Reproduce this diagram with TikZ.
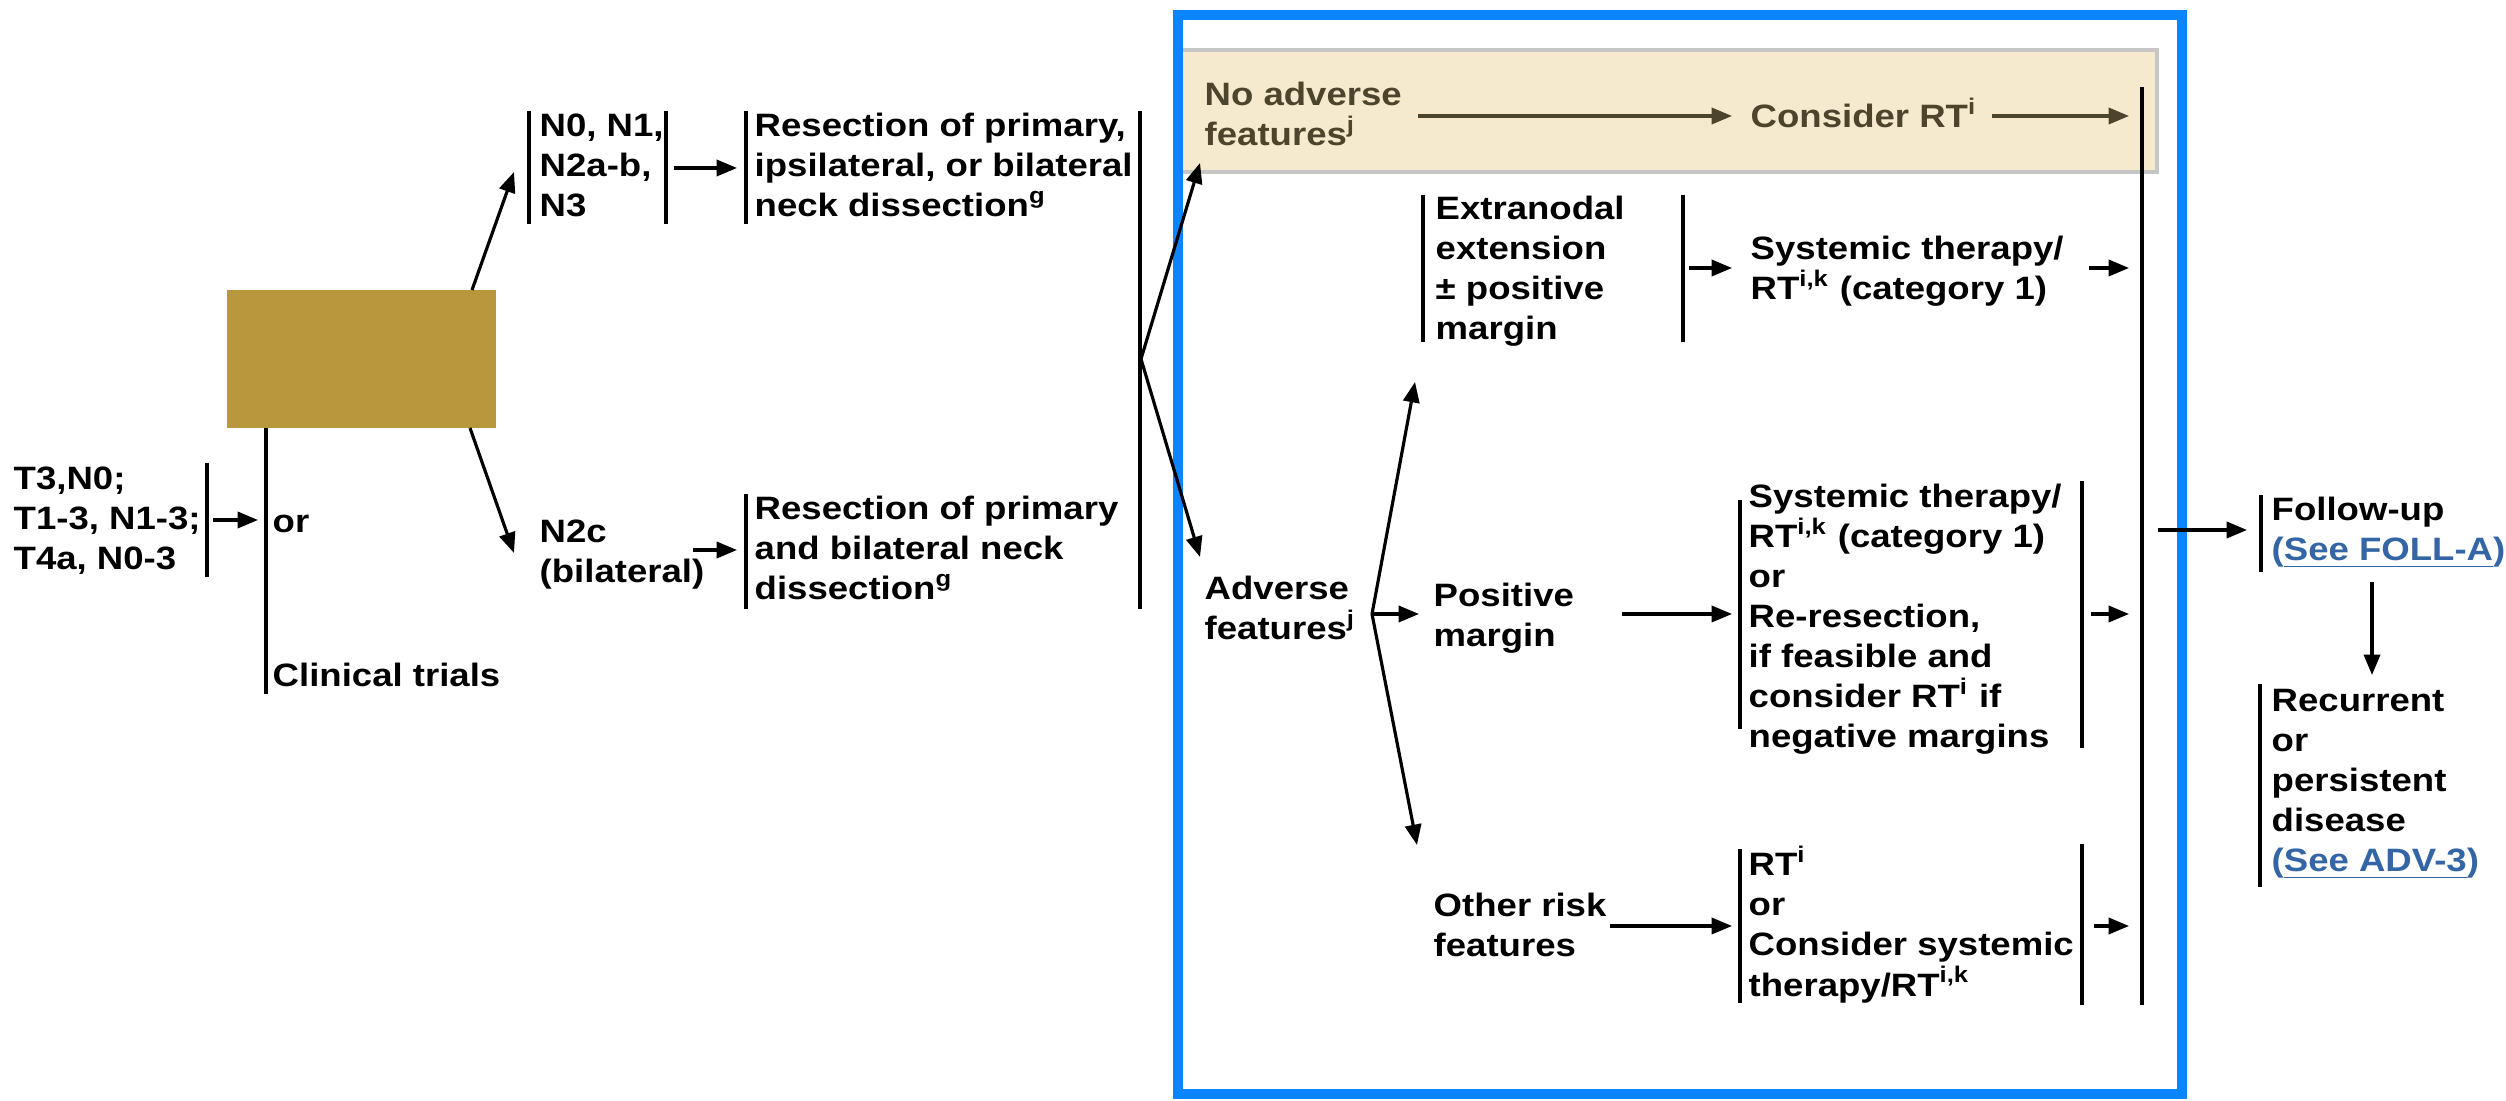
\documentclass[tikz,border=0pt]{standalone}
\usepackage{fontspec}
\setmainfont{Liberation Sans}[FakeStretch=1.13]
\usetikzlibrary{arrows.meta}

\definecolor{boxbrown}{RGB}{185,151,60}
\definecolor{frameblue}{RGB}{10,132,255}
\definecolor{bandbeige}{RGB}{245,234,206}
\definecolor{bandtext}{RGB}{77,68,45}
\definecolor{linkblue}{RGB}{52,101,164}

\newcommand{\seelink}[1]{\textcolor{linkblue}{(\underline{#1})}}

% nodes are placed at the baseline of their last line
\tikzset{
  txt/.style={anchor=base west, inner sep=0pt, align=left,
    font=\bfseries\fontsize{9.2}{11.4}\selectfont},
  arr/.style={-{Triangle[length=5.8pt,width=4.6pt]}, line width=0.9pt},
  bar/.style={line width=0.9pt},
}

\begin{document}
\begin{tikzpicture}[x=0.01cm,y=-0.01cm]
    \useasboundingbox (0,0) rectangle (2506,1101);

    % shaded band and frame
    \fill [bandbeige] (1183,50) rectangle (2157,172);
    \draw [gray!45, line width=1.2pt] (1183,50) -- (2157,50) -- (2157,172) -- (1183,172);
    \draw [frameblue, line width=2.85pt] (1178,15) rectangle (2182,1094);

    % nodes
    \node [fill=boxbrown, minimum width=2.69cm, minimum height=1.38cm, inner sep=0pt] (prim) at (361.5,359) {};
    \node [txt] (stage) at (13,570) {T3,N0;\\T1-3, N1-3;\\T4a, N0-3};
    \node [txt] (ortxt) at (272,533) {or};
    \node [txt] (trials) at (272,687) {Clinical trials};
    \node [txt] (nzero) at (539,217) {N0, N1,\\N2a-b,\\N3};
    \node [txt] (resone) at (754,217) {Resection of primary,\\ipsilateral, or bilateral\\neck dissection\textsuperscript{g}};
    \node [txt] (ntwoc) at (539,583) {N2c\\(bilateral)};
    \node [txt] (restwo) at (754,600) {Resection of primary\\and bilateral neck\\dissection\textsuperscript{g}};
    \node [txt, text=bandtext] (noadv) at (1204,146) {No adverse\\features\textsuperscript{j}};
    \node [txt, text=bandtext] (consrt) at (1750,128) {Consider RT\textsuperscript{i}};
    \node [txt] (extra) at (1435,340) {Extranodal\\extension\\± positive\\margin};
    \node [txt] (systone) at (1750,300) {Systemic therapy/\\RT\textsuperscript{i,k} (category 1)};
    \node [txt] (adv) at (1204,640) {Adverse\\features\textsuperscript{j}};
    \node [txt] (posm) at (1433,647) {Positive\\margin};
    \node [txt] (systtwo) at (1748,748) {Systemic therapy/\\RT\textsuperscript{i,k} (category 1)\\or\\Re-resection,\\if feasible and\\consider RT\textsuperscript{i} if\\negative margins};
    \node [txt] (other) at (1433,957) {Other risk\\features};
    \node [txt] (rtopt) at (1748,996) {RT\textsuperscript{i}\\or\\Consider systemic\\therapy/RT\textsuperscript{i,k}};
    \node [txt] (follow) at (2271,561) {Follow-up\\\seelink{See FOLL-A}};
    \node [txt] (recur) at (2271,872) {Recurrent\\or\\persistent\\disease\\\seelink{See ADV-3}};

    % bars
    \draw [bar] (207,463) -- (207,577);
    \draw [bar] (266,428) -- (266,694);
    \draw [bar] (529,111) -- (529,224);
    \draw [bar] (666,111) -- (666,224);
    \draw [bar] (746,111) -- (746,224);
    \draw [bar] (746,494) -- (746,609);
    \draw [bar] (1140,111) -- (1140,609);
    \draw [bar] (1423,195) -- (1423,342);
    \draw [bar] (1683,195) -- (1683,342);
    \draw [bar] (1740,500) -- (1740,729);
    \draw [bar] (2082,481) -- (2082,748);
    \draw [bar] (1740,849) -- (1740,1003);
    \draw [bar] (2082,844) -- (2082,1005);
    \draw [bar] (2142,87) -- (2142,1005);
    \draw [bar] (2261,495) -- (2261,572);
    \draw [bar] (2260,684) -- (2260,887);

    % arrow ends
    \coordinate (stageout) at (213,520);
    \coordinate (orin) at (258,520);
    \coordinate (primtop) at (472,290);
    \coordinate (nzeroin) at (514,172);
    \coordinate (primbot) at (470,428);
    \coordinate (ntwocin) at (514,553);
    \coordinate (nzeroout) at (674,168);
    \coordinate (resonein) at (737,168);
    \coordinate (ntwocout) at (693,550);
    \coordinate (restwoin) at (737,550);
    \coordinate (fork) at (1141,359);
    \coordinate (noadvin) at (1200,163);
    \coordinate (advin) at (1200,557);
    \coordinate (noadvout) at (1418,116);
    \coordinate (consin) at (1732,116);
    \coordinate (consout) at (1992,116);
    \coordinate (consend) at (2129,116);
    \coordinate (forktwo) at (1372,614);
    \coordinate (extrain) at (1415,382);
    \coordinate (posin) at (1419,614);
    \coordinate (otherin) at (1417,845);
    \coordinate (extraout) at (1689,268);
    \coordinate (systonein) at (1732,268);
    \coordinate (systoneout) at (2089,268);
    \coordinate (systoneend) at (2129,268);
    \coordinate (posout) at (1622,614);
    \coordinate (systtwoin) at (1732,614);
    \coordinate (systtwoout) at (2091,614);
    \coordinate (systtwoend) at (2129,614);
    \coordinate (otherout) at (1610,926);
    \coordinate (rtoptin) at (1732,926);
    \coordinate (rtoptout) at (2094,926);
    \coordinate (rtoptend) at (2129,926);
    \coordinate (allout) at (2158,530);
    \coordinate (followin) at (2247,530);
    \coordinate (followout) at (2372,582);
    \coordinate (recurin) at (2372,675);

    % arrows
    \draw [arr] (stageout) -- (orin);
    \draw [arr] (primtop) -- (nzeroin);
    \draw [arr] (primbot) -- (ntwocin);
    \draw [arr] (nzeroout) -- (resonein);
    \draw [arr] (ntwocout) -- (restwoin);
    \draw [arr] (fork) -- (noadvin);
    \draw [arr] (fork) -- (advin);
    \draw [arr, bandtext] (noadvout) -- (consin);
    \draw [arr, bandtext] (consout) -- (consend);
    \draw [arr] (forktwo) -- (extrain);
    \draw [arr] (forktwo) -- (posin);
    \draw [arr] (forktwo) -- (otherin);
    \draw [arr] (extraout) -- (systonein);
    \draw [arr] (systoneout) -- (systoneend);
    \draw [arr] (posout) -- (systtwoin);
    \draw [arr] (systtwoout) -- (systtwoend);
    \draw [arr] (otherout) -- (rtoptin);
    \draw [arr] (rtoptout) -- (rtoptend);
    \draw [arr] (allout) -- (followin);
    \draw [arr] (followout) -- (recurin);
\end{tikzpicture}
\end{document}
